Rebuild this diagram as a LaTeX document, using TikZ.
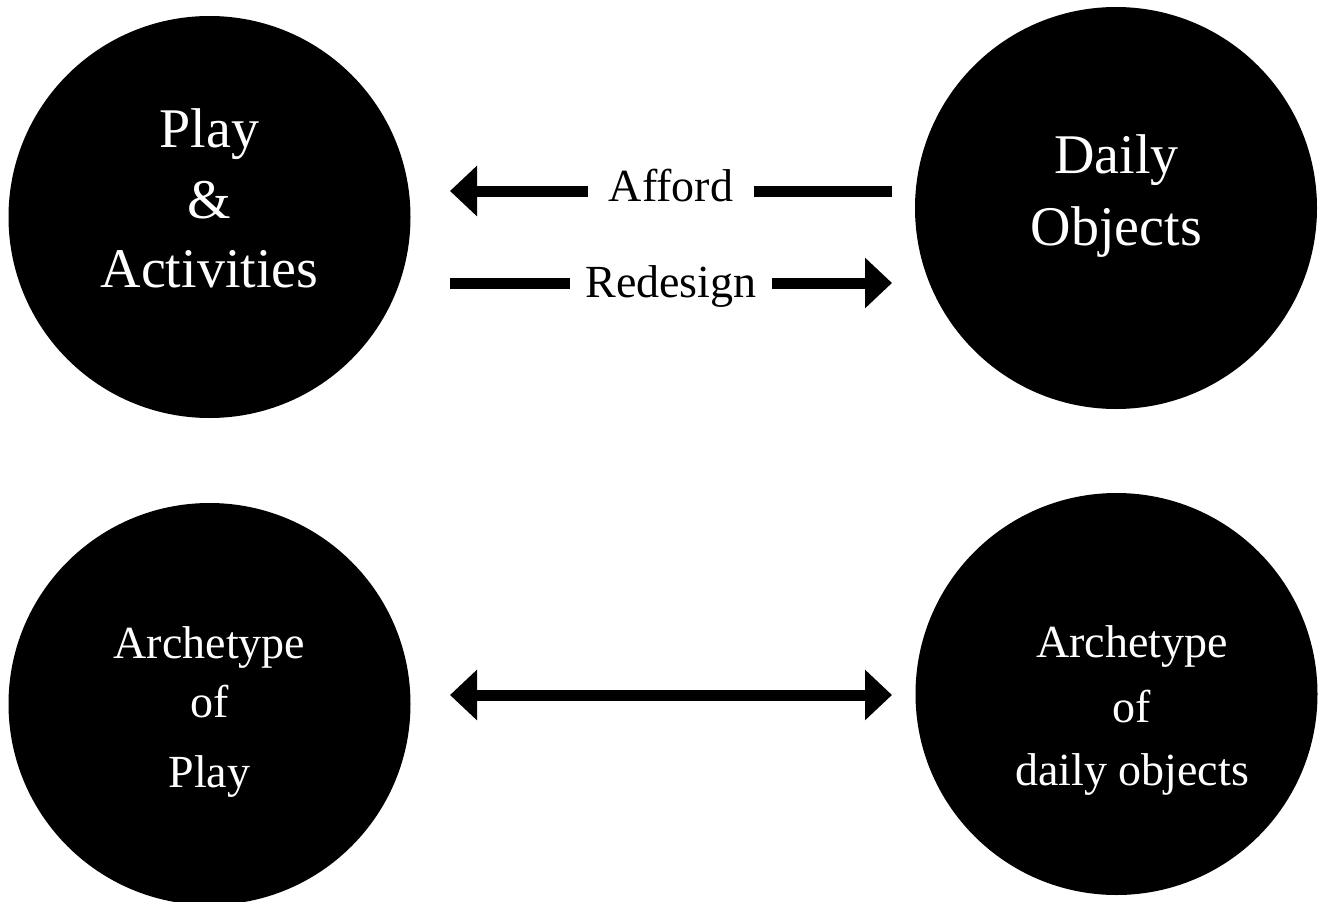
\documentclass[tikz,border=0pt]{standalone}
\usepackage{fontspec}
\setmainfont{Liberation Serif}
\usetikzlibrary{arrows.meta}
\begin{document}
\begin{tikzpicture}[x=1pt,y=-1pt,
  blob/.style={circle,fill=black,minimum size=402pt,inner sep=0pt},
  big/.style={text=white,font=\fontsize{56}{62}\selectfont,anchor=base,inner sep=0pt},
  small/.style={text=white,font=\fontsize{46}{52}\selectfont,anchor=base,inner sep=0pt},
  conn/.style={line width=11pt},
  tipend/.style={-{Triangle[length=27pt,width=49pt]}},
  tipboth/.style={{Triangle[length=27pt,width=49pt]}-{Triangle[length=27pt,width=49pt]}},
  lbl/.style={fill=white,font=\fontsize{46}{52}\selectfont,inner ysep=0pt,text height=31pt,text depth=10pt}]
\useasboundingbox (0,0) rectangle (1320,902);
\node[blob] (pa) at (209.5,217) {};
\node[blob] (do) at (1116,208) {};
\node[blob] (ap) at (209.5,704) {};
\node[blob] (ad) at (1116.5,694) {};
% top-left text
\node[big] (pa1) at (209.5,147) {Play};
\node[big] (pa2) at (209.5,218) {\&};
\node[big] (pa3) at (209.5,287) {Activities};
% top-right text
\node[big] (do1) at (1116.5,173) {Daily};
\node[big] (do2) at (1116.5,245) {Objects};
% bottom-left text
\node[small] (ap1) at (209.5,658) {Archetype};
\node[small] (ap2) at (209.5,717) {of};
\node[small] (ap3) at (209.5,787) {Play};
% bottom-right text
\node[small] (ad1) at (1132,657) {Archetype};
\node[small] (ad2) at (1132,722) {of};
\node[small] (ad3) at (1132,785) {daily objects};
% connectors
\coordinate (af1) at (892,191);
\coordinate (af2) at (450,191);
\coordinate (re1) at (450,283);
\coordinate (re2) at (892,283);
\coordinate (bt1) at (450,695);
\coordinate (bt2) at (892,695);
\draw[conn,tipend] (af1) -- node[lbl,inner xsep=21pt] (aflbl) {Afford} (af2);
\draw[conn,tipend] (re1) -- node[lbl,inner xsep=15pt,yshift=-4pt] (relbl) {Redesign} (re2);
\draw[conn,tipboth] (bt1) -- (bt2);
\end{tikzpicture}
\end{document}
